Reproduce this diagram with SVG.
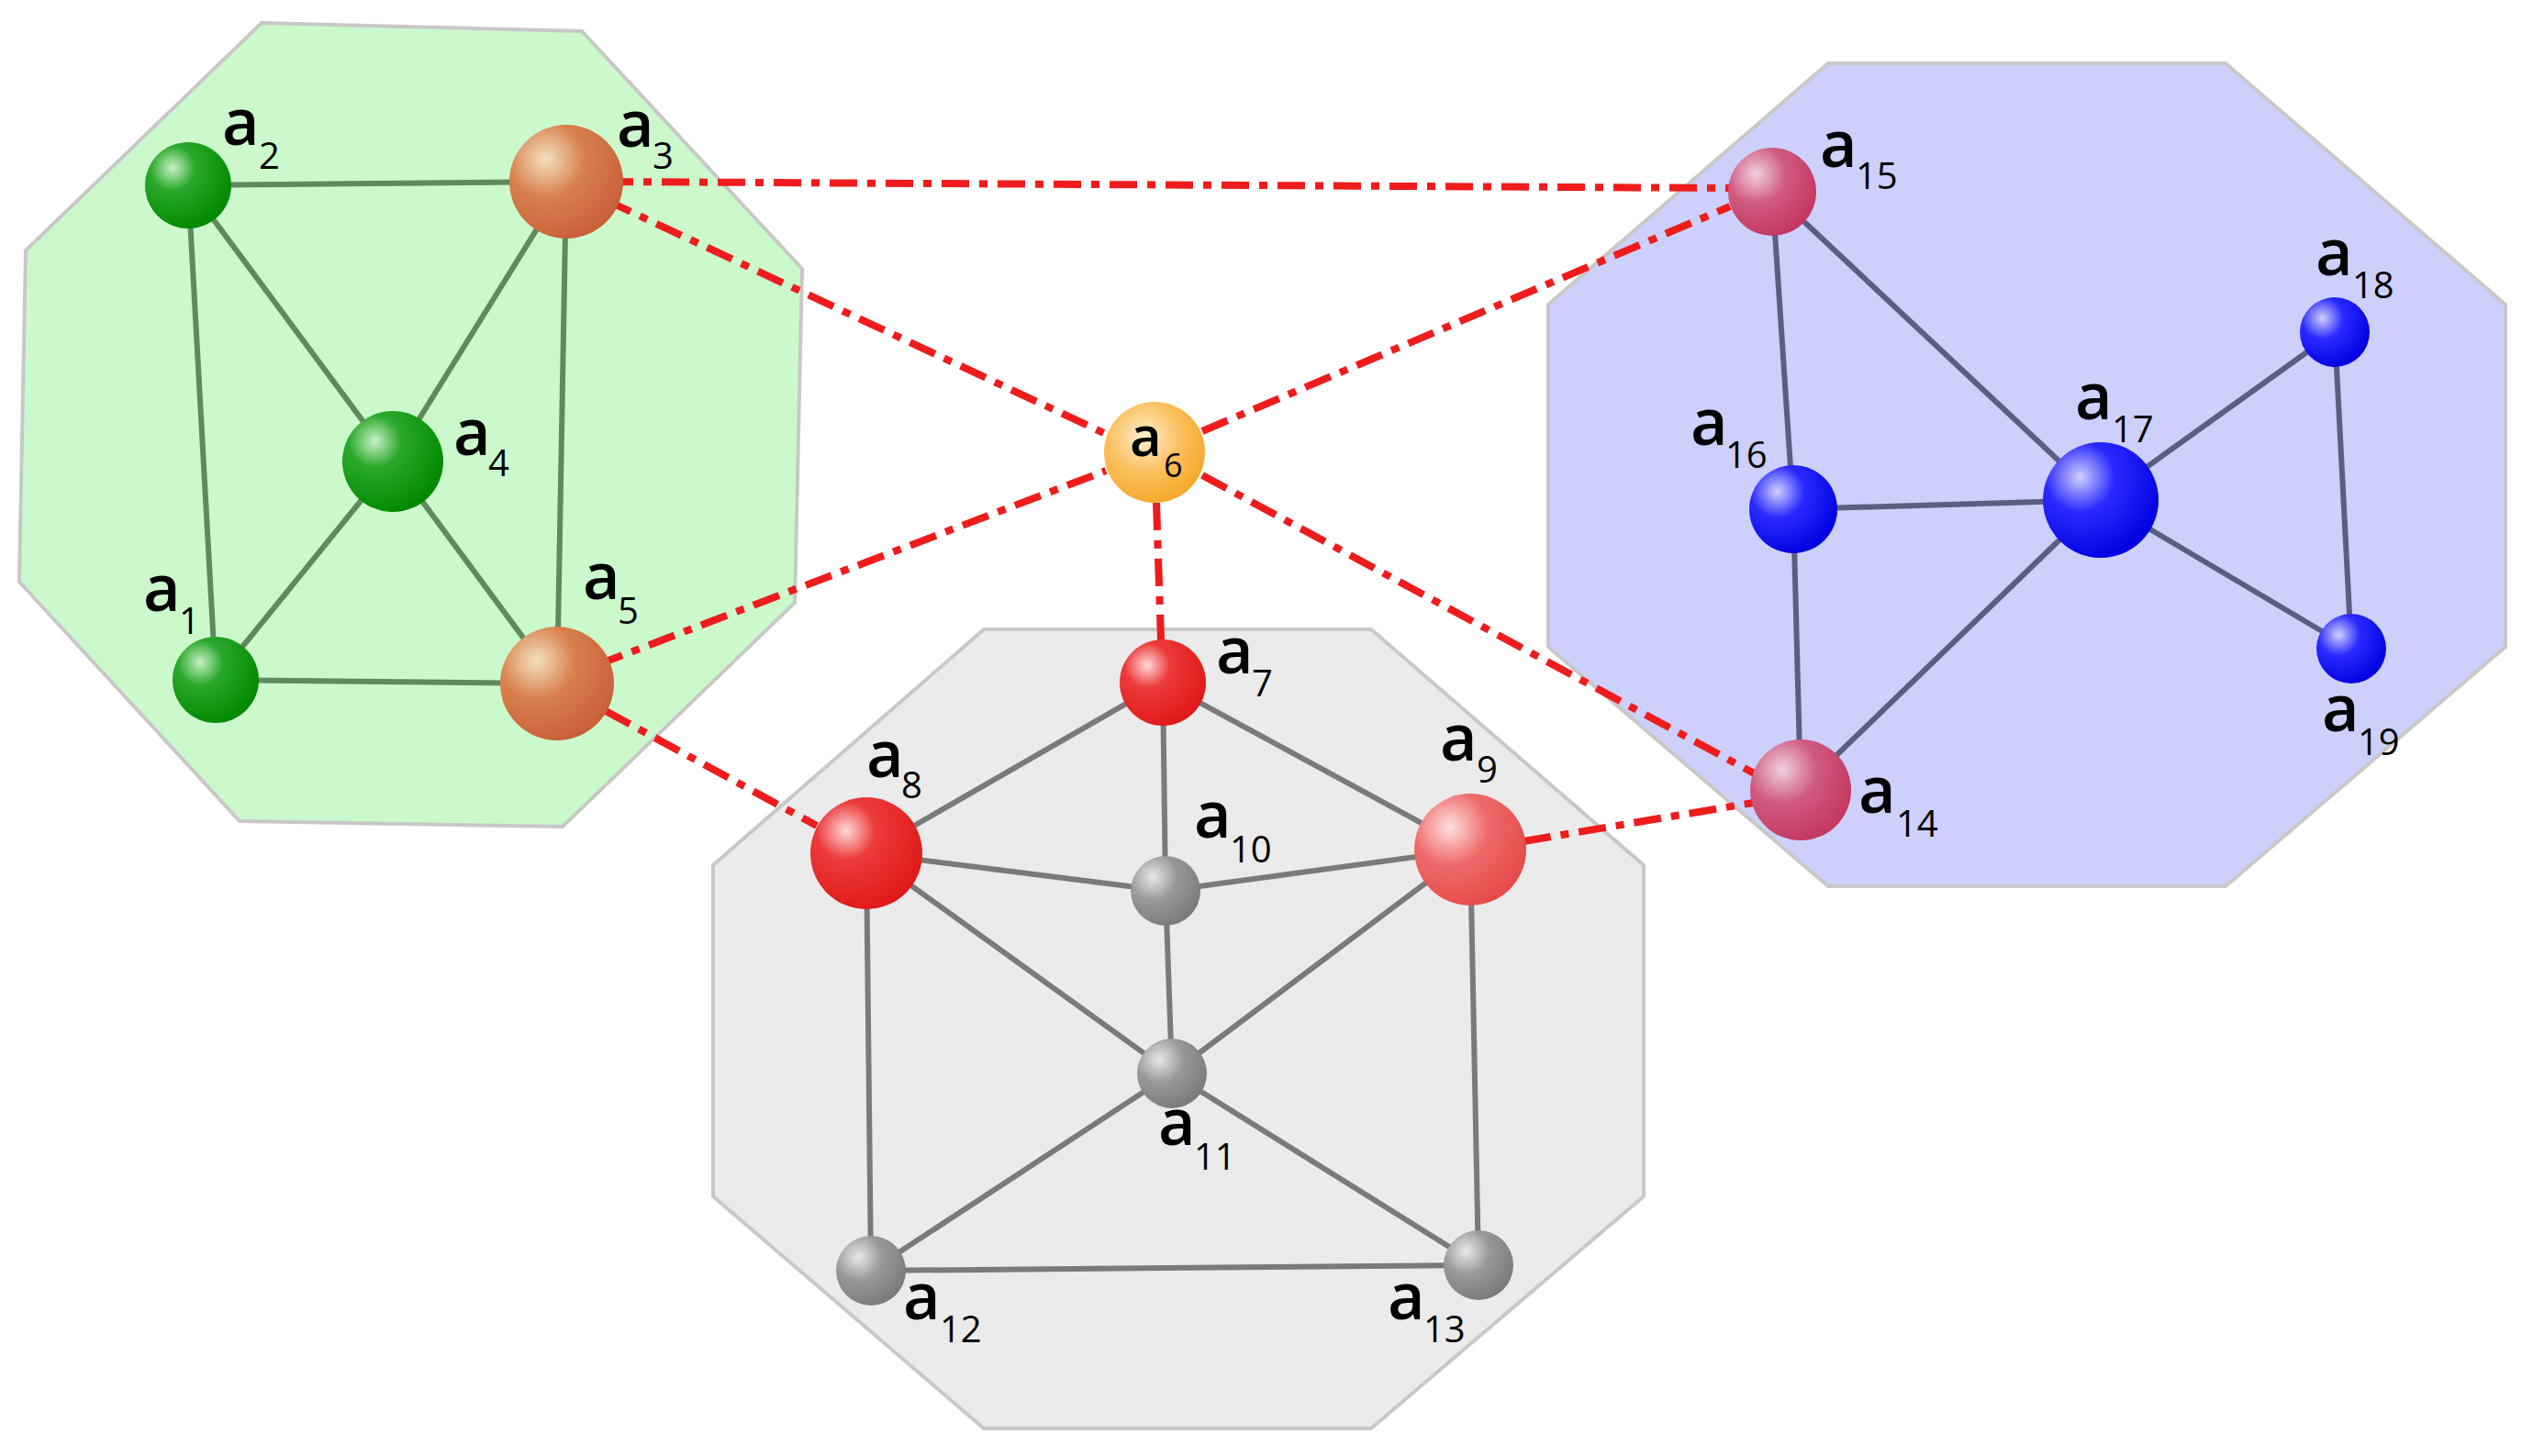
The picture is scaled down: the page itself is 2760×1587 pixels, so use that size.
<svg xmlns="http://www.w3.org/2000/svg" width="2760" height="1587" viewBox="0 0 2760 1587">
<defs>
<radialGradient id="gG" cx="0.32" cy="0.3" r="0.75"><stop offset="0" stop-color="#c8f0c8"/><stop offset="0.35" stop-color="#2aa82a"/><stop offset="1" stop-color="#008800"/></radialGradient>
<radialGradient id="gO" cx="0.32" cy="0.3" r="0.75"><stop offset="0" stop-color="#f4e0c0"/><stop offset="0.45" stop-color="#d8804c"/><stop offset="1" stop-color="#c8603a"/></radialGradient>
<radialGradient id="gR" cx="0.32" cy="0.3" r="0.75"><stop offset="0" stop-color="#ffd8d8"/><stop offset="0.35" stop-color="#ec3a3a"/><stop offset="1" stop-color="#e01818"/></radialGradient>
<radialGradient id="gR2" cx="0.32" cy="0.3" r="0.75"><stop offset="0" stop-color="#ffe0e0"/><stop offset="0.45" stop-color="#ee6a6a"/><stop offset="1" stop-color="#e64a4a"/></radialGradient>
<radialGradient id="gK" cx="0.32" cy="0.3" r="0.75"><stop offset="0" stop-color="#e8e8e8"/><stop offset="0.45" stop-color="#999"/><stop offset="1" stop-color="#7a7a7a"/></radialGradient>
<radialGradient id="gP" cx="0.32" cy="0.3" r="0.75"><stop offset="0" stop-color="#f0d0e0"/><stop offset="0.45" stop-color="#d05a80"/><stop offset="1" stop-color="#c43660"/></radialGradient>
<radialGradient id="gB" cx="0.32" cy="0.3" r="0.75"><stop offset="0" stop-color="#d0d0ff"/><stop offset="0.4" stop-color="#2a2aff"/><stop offset="1" stop-color="#0000e0"/></radialGradient>
<radialGradient id="gY" cx="0.4" cy="0.35" r="0.7"><stop offset="0" stop-color="#fff0d0"/><stop offset="0.5" stop-color="#fbc060"/><stop offset="1" stop-color="#f5a623"/></radialGradient>
</defs>
<style>
.hull{stroke:#c8c8c8;stroke-width:4}
.eg{stroke:#5e8a5e;stroke-width:6}
.ek{stroke:#7a7a7a;stroke-width:6}
.eb{stroke:#5a5e80;stroke-width:6}
.ed{stroke:#ee1c1c;stroke-width:8;stroke-dasharray:30 11 9 11;fill:none}
text{font-family:"Open Sans","DejaVu Sans",sans-serif;font-weight:600;fill:#000}
.a{font-size:70px}
.s{font-size:40px;font-weight:400}
</style>
<g id="hulls">
<polygon class="hull" fill="#ccf9cc" points="285,25 634,34 874,293 866,657 613,901 261,895 21,634 28,273"/>
<polygon class="hull" fill="#ccd0fa" points="1992,69 2425,69 2730,332 2730,705 2425,966 1992,966 1687,705 1687,332"/>
<polygon class="hull" fill="#ebebeb" points="1072,686 1494,686 1791,943 1791,1304 1494,1557 1072,1557 777,1304 777,943"/>
</g>
<g id="connectors">
<line class="eg" x1="235" y1="741" x2="205" y2="202"/>
<line class="eg" x1="205" y1="202" x2="617" y2="198"/>
<line class="eg" x1="205" y1="202" x2="428" y2="503"/>
<line class="eg" x1="617" y1="198" x2="428" y2="503"/>
<line class="eg" x1="617" y1="198" x2="607" y2="745"/>
<line class="eg" x1="428" y1="503" x2="235" y2="741"/>
<line class="eg" x1="428" y1="503" x2="607" y2="745"/>
<line class="eg" x1="235" y1="741" x2="607" y2="745"/>
<line class="ek" x1="1267" y1="744" x2="944" y2="930"/>
<line class="ek" x1="1267" y1="744" x2="1602" y2="926"/>
<line class="ek" x1="1267" y1="744" x2="1270" y2="971"/>
<line class="ek" x1="944" y1="930" x2="1270" y2="971"/>
<line class="ek" x1="1602" y1="926" x2="1270" y2="971"/>
<line class="ek" x1="1270" y1="971" x2="1277" y2="1170"/>
<line class="ek" x1="944" y1="930" x2="1277" y2="1170"/>
<line class="ek" x1="1602" y1="926" x2="1277" y2="1170"/>
<line class="ek" x1="944" y1="930" x2="949" y2="1385"/>
<line class="ek" x1="1602" y1="926" x2="1611" y2="1379"/>
<line class="ek" x1="1277" y1="1170" x2="949" y2="1385"/>
<line class="ek" x1="1277" y1="1170" x2="1611" y2="1379"/>
<line class="ek" x1="949" y1="1385" x2="1611" y2="1379"/>
<line class="eb" x1="1931" y1="209" x2="1954" y2="555"/>
<line class="eb" x1="1931" y1="209" x2="2289" y2="545"/>
<line class="eb" x1="1954" y1="555" x2="2289" y2="545"/>
<line class="eb" x1="1954" y1="555" x2="1962" y2="861"/>
<line class="eb" x1="1962" y1="861" x2="2289" y2="545"/>
<line class="eb" x1="2289" y1="545" x2="2544" y2="362"/>
<line class="eb" x1="2289" y1="545" x2="2562" y2="707"/>
<line class="eb" x1="2544" y1="362" x2="2562" y2="707"/>
<line class="ed" x1="660" y1="198" x2="1885" y2="205"/>
<line class="ed" x1="660" y1="218" x2="1205" y2="473"/>
<line class="ed" x1="1310" y1="470" x2="1885" y2="225"/>
<line class="ed" x1="650" y1="725" x2="1205" y2="513"/>
<line class="ed" x1="660" y1="775" x2="890" y2="900"/>
<line class="ed" x1="1260" y1="548" x2="1265" y2="698"/>
<line class="ed" x1="1310" y1="518" x2="1915" y2="845"/>
<line class="ed" x1="1660" y1="917" x2="1910" y2="875"/>
</g>
<g id="a1"><circle cx="235" cy="741" r="47" fill="url(#gG)"/><text x="156" y="666" class="a">a</text><text x="195" y="691" class="s">1</text></g>
<g id="a2"><circle cx="205" cy="202" r="47" fill="url(#gG)"/><text x="242" y="158" class="a">a</text><text x="282" y="184" class="s">2</text></g>
<g id="a3"><circle cx="617" cy="198" r="62" fill="url(#gO)"/><text x="672" y="160" class="a">a</text><text x="711" y="184" class="s">3</text></g>
<g id="a4"><circle cx="428" cy="503" r="55" fill="url(#gG)"/><text x="494" y="496" class="a">a</text><text x="532" y="519" class="s">4</text></g>
<g id="a5"><circle cx="607" cy="745" r="62" fill="url(#gO)"/><text x="635" y="653" class="a">a</text><text x="673" y="680" class="s">5</text></g>
<g id="a6"><circle cx="1258" cy="493" r="55" fill="url(#gY)"/><text x="1231" y="497" class="a" style="font-size:60px">a</text><text x="1268" y="520" class="s" style="font-size:36px">6</text></g>
<g id="a7"><circle cx="1267" cy="744" r="47" fill="url(#gR)"/><text x="1325" y="734" class="a">a</text><text x="1364" y="759" class="s">7</text></g>
<g id="a8"><circle cx="944" cy="930" r="61" fill="url(#gR)"/><text x="944" y="847" class="a">a</text><text x="982" y="870" class="s">8</text></g>
<g id="a9"><circle cx="1602" cy="926" r="61" fill="url(#gR2)"/><text x="1569" y="829" class="a">a</text><text x="1609" y="853" class="s">9</text></g>
<g id="a10"><circle cx="1270" cy="971" r="38" fill="url(#gK)"/><text x="1301" y="913" class="a">a</text><text x="1340" y="940" class="s">10</text></g>
<g id="a11"><circle cx="1277" cy="1170" r="38" fill="url(#gK)"/><text x="1262" y="1248" class="a">a</text><text x="1301" y="1275" class="s">11</text></g>
<g id="a12"><circle cx="949" cy="1385" r="38" fill="url(#gK)"/><text x="984" y="1438" class="a">a</text><text x="1024" y="1463" class="s">12</text></g>
<g id="a13"><circle cx="1611" cy="1379" r="38" fill="url(#gK)"/><text x="1512" y="1438" class="a">a</text><text x="1551" y="1463" class="s">13</text></g>
<g id="a14"><circle cx="1962" cy="861" r="55" fill="url(#gP)"/><text x="2025" y="886" class="a">a</text><text x="2066" y="912" class="s">14</text></g>
<g id="a15"><circle cx="1931" cy="209" r="48" fill="url(#gP)"/><text x="1983" y="182" class="a">a</text><text x="2022" y="206" class="s">15</text></g>
<g id="a16"><circle cx="1954" cy="555" r="48" fill="url(#gB)"/><text x="1842" y="485" class="a">a</text><text x="1880" y="510" class="s">16</text></g>
<g id="a17"><circle cx="2289" cy="545" r="63" fill="url(#gB)"/><text x="2261" y="457" class="a">a</text><text x="2301" y="482" class="s">17</text></g>
<g id="a18"><circle cx="2544" cy="362" r="38" fill="url(#gB)"/><text x="2523" y="300" class="a">a</text><text x="2563" y="325" class="s">18</text></g>
<g id="a19"><circle cx="2562" cy="707" r="38" fill="url(#gB)"/><text x="2530" y="797" class="a">a</text><text x="2569" y="823" class="s">19</text></g>
</svg>
